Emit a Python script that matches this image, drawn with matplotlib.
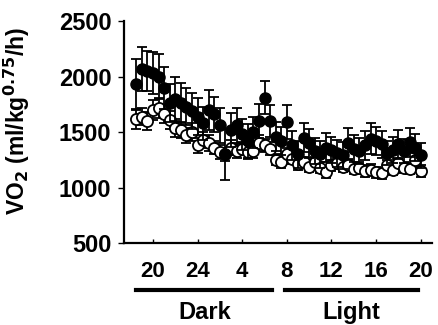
import numpy as np
import matplotlib.pyplot as plt

plt.rcParams['font.family'] = ['Liberation Sans', 'DejaVu Sans']
plt.rcParams['font.weight'] = 'bold'

# time in hours from 20:00 of day 1 (20 -> 44 == 20:00 next day)
hours = np.arange(18.5, 44.01, 0.5)

# filled circles (mean and SEM)
filled = [1930, 2070, 2050, 2030, 2000, 1900, 1760, 1800, 1760, 1730,
          1690, 1640, 1580, 1700, 1660, 1560, 1300, 1520, 1560, 1480,
          1420, 1500, 1600, 1810, 1600, 1460, 1420, 1590, 1380, 1300,
          1450, 1400, 1330, 1300, 1360, 1340, 1310, 1290, 1400, 1350,
          1330, 1380, 1440, 1420, 1390, 1310, 1340, 1390, 1330, 1410,
          1360, 1290]
filled_err = [230, 200, 180, 190, 200, 190, 170, 200, 180, 170,
              160, 170, 150, 180, 160, 160, 230, 150, 160, 140,
              150, 140, 150, 150, 140, 130, 130, 150, 130, 120,
              130, 130, 120, 120, 130, 120, 120, 120, 140, 120,
              120, 130, 140, 130, 120, 110, 120, 130, 110, 130,
              120, 110]

# open circles (mean and SEM)
opened = [1620, 1640, 1600, 1700, 1720, 1660, 1610, 1540, 1520, 1470,
          1500, 1380, 1430, 1400, 1360, 1320, 1300, 1360, 1330, 1350,
          1320, 1330, 1400, 1380, 1350, 1250, 1230, 1300, 1260, 1210,
          1230, 1190, 1230, 1180, 1140, 1200, 1220, 1190, 1200, 1170,
          1180, 1150, 1160, 1140, 1130, 1200, 1160, 1220, 1180, 1170,
          1250, 1150]
opened_err = [90, 80, 80, 90, 90, 80, 80, 80, 70, 70,
              80, 70, 70, 70, 60, 60, 60, 70, 60, 60,
              60, 60, 70, 60, 60, 50, 50, 60, 50, 50,
              50, 50, 50, 50, 50, 50, 50, 50, 50, 50,
              50, 50, 50, 50, 50, 50, 50, 50, 50, 50,
              60, 50]

tick_pos = [20, 24, 28, 32, 36, 40, 44]
tick_labels = ['20', '24', '4', '8', '12', '16', '20']
yticks = [500, 1000, 1500, 2000, 2500]

fig = plt.figure(figsize=(4.38, 3.25), dpi=100)
ax = fig.add_axes([0.283, 0.252, 0.703, 0.683])

ax.errorbar(hours, opened, yerr=opened_err, fmt='o', color='black',
            mfc='white', mec='black', ms=8, mew=1.3, elinewidth=1.3,
            capsize=3.5, capthick=1.3, zorder=2)
ax.errorbar(hours, filled, yerr=filled_err, fmt='o', color='black',
            mfc='black', mec='black', ms=8, elinewidth=1.3,
            capsize=3.5, capthick=1.3, zorder=3)

ax.set_xlim(17.4, 45.0)
ax.set_ylim(500, 2500)
ax.set_xticks(tick_pos)
ax.set_xticklabels(tick_labels)
ax.set_yticks(yticks)

for s in ['top', 'right']:
    ax.spines[s].set_visible(False)
for s in ['left', 'bottom']:
    ax.spines[s].set_linewidth(1.6)

ax.tick_params(axis='x', direction='in', length=3, width=1, pad=13, labelsize=16)
ax.tick_params(axis='y', direction='out', length=4, width=1, pad=5, labelsize=17)

ax.set_ylabel('VO$_2$ (ml/kg$^{0.75}$/h)', fontsize=16.5, fontweight='bold')
ax.yaxis.set_label_coords(-0.30, 0.55)

# dark / light bars under the axis
trans = ax.get_xaxis_transform()
ax.plot([18.5, 30.7], [-0.212, -0.212], color='black', lw=3, transform=trans, clip_on=False)
ax.plot([31.8, 43.8], [-0.212, -0.212], color='black', lw=3, transform=trans, clip_on=False)
ax.text(24.6, -0.311, 'Dark', transform=trans, ha='center', va='center', fontsize=17, fontweight='bold')
ax.text(37.8, -0.311, 'Light', transform=trans, ha='center', va='center', fontsize=17, fontweight='bold')

fig.savefig('out.png', dpi=100)
